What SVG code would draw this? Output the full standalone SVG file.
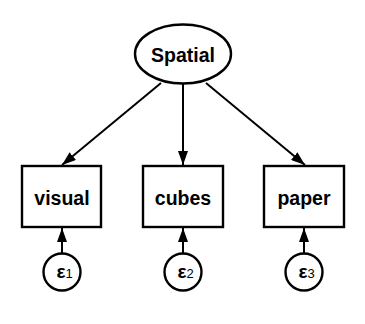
<svg xmlns="http://www.w3.org/2000/svg" width="365" height="324" viewBox="0 0 365 324">
<defs>
<style>
.shape{fill:#fff;stroke:#000;stroke-width:2.4}
.lbl{font-family:"Liberation Sans",Arial,sans-serif;font-weight:bold;font-size:19.5px;fill:#000;text-anchor:middle}
.eps{font-family:"Liberation Sans",Arial,sans-serif;font-weight:bold;font-size:19px;fill:#000}
.sub{font-size:13px;font-weight:normal}
.edge{stroke:#000;stroke-width:2;fill:none;marker-end:url(#ah)}
</style>
<marker id="ah" viewBox="0 0 14 10" refX="14" refY="5" markerWidth="14" markerHeight="10" markerUnits="userSpaceOnUse" orient="auto">
<path d="M0,0 L14,5 L0,10 Z" fill="#000"/>
</marker>
</defs>
<rect width="365" height="324" fill="#fff"/>
<g id="connectors">
<line class="edge" x1="161" y1="83" x2="62" y2="165"/>
<line class="edge" x1="183" y1="84" x2="183" y2="165"/>
<line class="edge" x1="206" y1="83" x2="305" y2="165"/>
<line class="edge" x1="62" y1="253" x2="62" y2="228"/>
<line class="edge" x1="183" y1="253" x2="183" y2="228"/>
<line class="edge" x1="304" y1="253" x2="304" y2="228"/>
</g>
<g id="spatial">
<ellipse class="shape" cx="183" cy="54" rx="48" ry="29.5"/>
<text class="lbl" x="183" y="62">Spatial</text>
</g>
<g id="visual">
<rect class="shape" x="22" y="166" width="79" height="61"/>
<text class="lbl" x="62" y="205">visual</text>
</g>
<g id="cubes">
<rect class="shape" x="143" y="166" width="80" height="61"/>
<text class="lbl" x="183" y="205">cubes</text>
</g>
<g id="paper">
<rect class="shape" x="264" y="166" width="80" height="61"/>
<text class="lbl" x="304" y="205">paper</text>
</g>
<g id="e1">
<circle class="shape" cx="62" cy="272" r="18.5"/>
<text class="eps" x="56.5" y="278">ε<tspan class="sub">1</tspan></text>
</g>
<g id="e2">
<circle class="shape" cx="183" cy="272" r="18.5"/>
<text class="eps" x="177.5" y="278">ε<tspan class="sub">2</tspan></text>
</g>
<g id="e3">
<circle class="shape" cx="304" cy="272" r="18.5"/>
<text class="eps" x="298.5" y="278">ε<tspan class="sub">3</tspan></text>
</g>
</svg>
